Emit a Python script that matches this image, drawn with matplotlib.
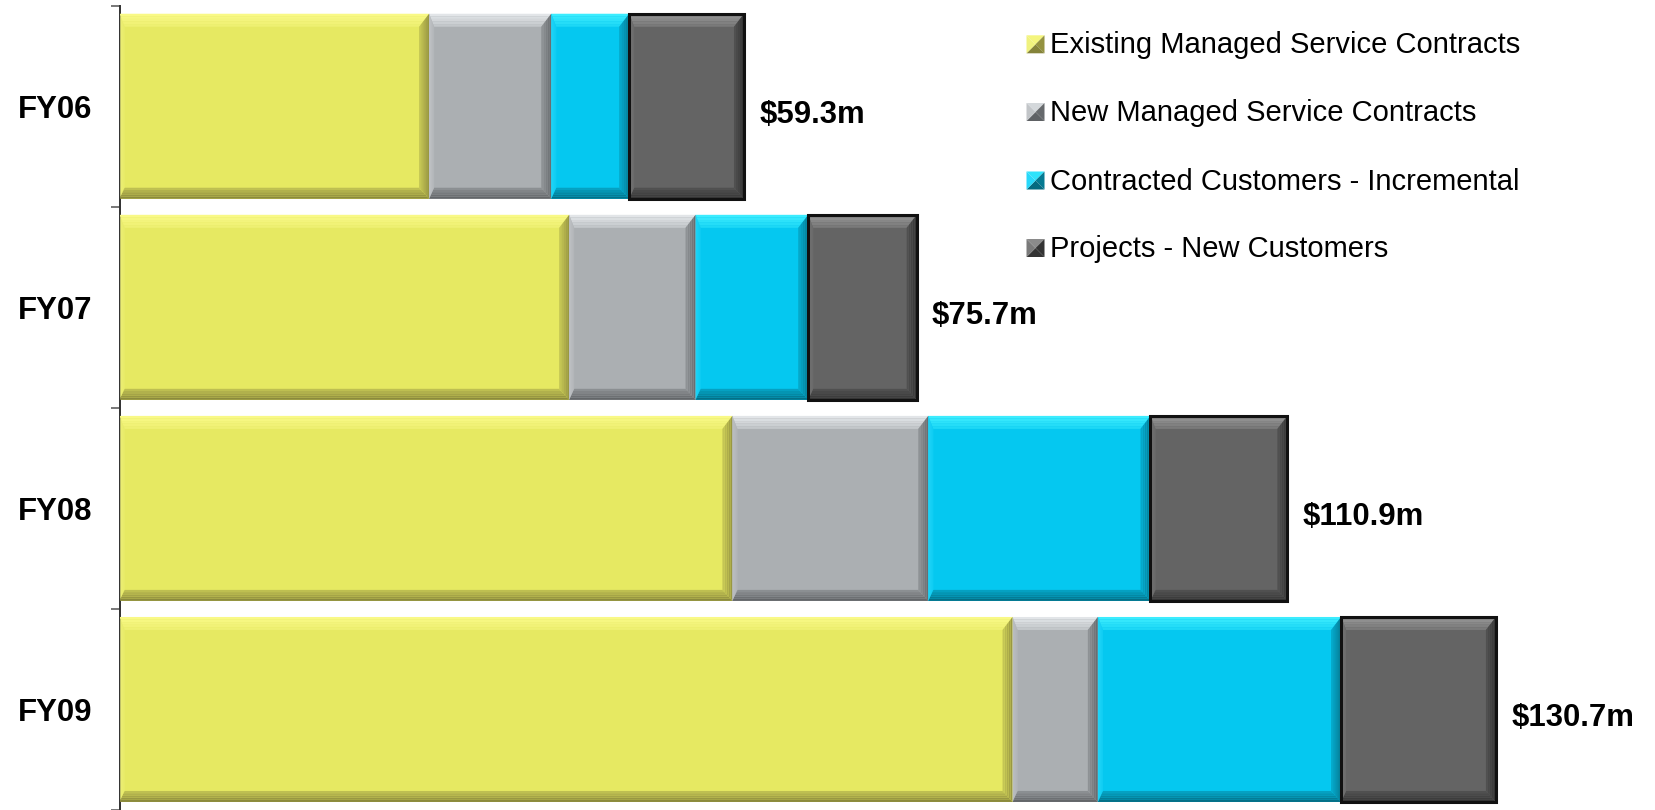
import matplotlib.pyplot as plt
from matplotlib.patches import Polygon
import matplotlib.colors as mcolors
import numpy as np

years = ['FY06', 'FY07', 'FY08', 'FY09']
series = ['Existing Managed Service Contracts', 'New Managed Service Contracts',
          'Contracted Customers - Incremental', 'Projects - New Customers']
existing = [29.4, 42.7, 58.2, 84.8]
new_contracts = [11.6, 12.0, 18.6, 8.1]
incremental = [7.4, 10.7, 21.1, 23.1]
projects = [10.9, 10.3, 13.0, 14.7]
totals = [59.3, 75.7, 110.9, 130.7]
total_labels = ['$59.3m', '$75.7m', '$110.9m', '$130.7m']

# base, top, left, bottom, right bevel colours per series
styles = [
    ('#E6E962', '#FAFA88', '#F0F27E', '#85833A', '#949240'),
    ('#ABAFB2', '#E6E9EC', '#C2C5C8', '#5E6164', '#66696C'),
    ('#05C8F0', '#40EEFF', '#28D8FA', '#046A80', '#057A92'),
    ('#646464', '#9A9A9A', '#7A7A7A', '#333333', '#333333'),
]

W, H, DPI = 1655, 810, 100
plt.rcParams['font.family'] = ['Liberation Sans', 'DejaVu Sans']

fig = plt.figure(figsize=(W / DPI, H / DPI), dpi=DPI)
ax_left, ax_bottom = 119.5 / W, 0.0
ax_w, ax_h = 1527 / W, 804.3 / H
ax = fig.add_axes([ax_left, ax_bottom, ax_w, ax_h])
xmax = 145
ax.set_xlim(0, xmax)
ax.set_ylim(3.5, -0.5)

px_x = W * ax_w / xmax      # pixels per $m
px_y = H * ax_h / 4.0       # pixels per category


def mix(c1, c2, t):
    a = np.array(mcolors.to_rgb(c1))
    b = np.array(mcolors.to_rgb(c2))
    return tuple(a * (1 - t) + b * t)


def bevel(rect, st, outline=False):
    base, top, left, bot, right = st
    x0 = rect.get_x()
    x1 = x0 + rect.get_width()
    yt = rect.get_y()               # visually top (y axis inverted)
    yb = yt + rect.get_height()
    bt, bl, bb, br = 13 / px_y, 5 / px_x, 11 / px_y, 10 / px_x
    n = 5
    for k in range(n):
        f0, f1 = k / n, (k + 1) / n
        t = 0.65 * (k + 0.5) / n
        # top strip
        ax.add_patch(Polygon([(x0 + bl * f0, yt + bt * f0), (x1 - br * f0, yt + bt * f0),
                              (x1 - br * f1, yt + bt * f1), (x0 + bl * f1, yt + bt * f1)],
                             closed=True, fc=mix(top, base, t), ec='none', zorder=3))
        # bottom strip
        ax.add_patch(Polygon([(x0 + bl * f0, yb - bb * f0), (x1 - br * f0, yb - bb * f0),
                              (x1 - br * f1, yb - bb * f1), (x0 + bl * f1, yb - bb * f1)],
                             closed=True, fc=mix(bot, base, t), ec='none', zorder=3))
        # left strip
        ax.add_patch(Polygon([(x0 + bl * f0, yt + bt * f0), (x0 + bl * f1, yt + bt * f1),
                              (x0 + bl * f1, yb - bb * f1), (x0 + bl * f0, yb - bb * f0)],
                             closed=True, fc=mix(left, base, t), ec='none', zorder=3))
        # right strip
        ax.add_patch(Polygon([(x1 - br * f0, yt + bt * f0), (x1 - br * f1, yt + bt * f1),
                              (x1 - br * f1, yb - bb * f1), (x1 - br * f0, yb - bb * f0)],
                             closed=True, fc=mix(right, base, t), ec='none', zorder=3))
    if outline:
        ax.add_patch(Polygon([(x0, yt), (x1, yt), (x1, yb), (x0, yb)], closed=True,
                             fc='none', ec='#111111', lw=2.2, zorder=4))


y = np.arange(len(years))
left = np.zeros(len(years))
for i, vals in enumerate([existing, new_contracts, incremental, projects]):
    bars = ax.barh(y, vals, left=left, height=0.92, color=styles[i][0],
                   edgecolor='none', zorder=2)
    for r in bars:
        bevel(r, styles[i], outline=(i == 3))
    left = left + np.array(vals)

for yi, tot, lab in zip(y, totals, total_labels):
    ax.annotate(lab, (tot, yi), xytext=(11, -6.5), textcoords='offset points',
                ha='left', va='center', fontsize=22.4, fontweight='bold', color='black')

# axis styling
for s in ['top', 'right', 'bottom']:
    ax.spines[s].set_visible(False)
ax.spines['left'].set_color('#303030')
ax.spines['left'].set_linewidth(1.4)
ax.set_xticks([])
ax.set_yticks(np.arange(-0.5, 4.0, 1.0))
ax.set_yticklabels([])
ax.tick_params(axis='y', which='major', direction='out', length=6.5, width=1.2, color='#606060')
ax.set_yticks(y, minor=True)
ax.set_yticklabels(years, minor=True, fontsize=22.4, fontweight='bold')
ax.tick_params(axis='y', which='minor', length=0, pad=19.5)

# legend drawn in figure pixel coordinates
leg_rows = [44.3, 112, 180.5, 248]
for (st, name, ry) in zip(styles, series, leg_rows):
    base, top, lft, bot, rgt = st
    cx, cy, s = 1035.5, ry, 9
    fx = lambda px: px / W
    fy = lambda py: 1 - py / H
    pts = {
        'tl': (fx(cx - s), fy(cy - s)), 'tr': (fx(cx + s), fy(cy - s)),
        'br': (fx(cx + s), fy(cy + s)), 'bl': (fx(cx - s), fy(cy + s)),
        'c': (fx(cx), fy(cy)),
    }
    for a, b, col in [('tl', 'tr', mix(top, base, 0.3)), ('tr', 'br', rgt),
                      ('br', 'bl', bot), ('bl', 'tl', lft)]:
        fig.patches.append(Polygon([pts[a], pts[b], pts['c']], closed=True,
                                   fc=col, ec='none', transform=fig.transFigure))
    fig.text(fx(1050), fy(ry + 1), name, ha='left', va='center', fontsize=21,
             color='black')

fig.savefig('out.png', dpi=DPI)
